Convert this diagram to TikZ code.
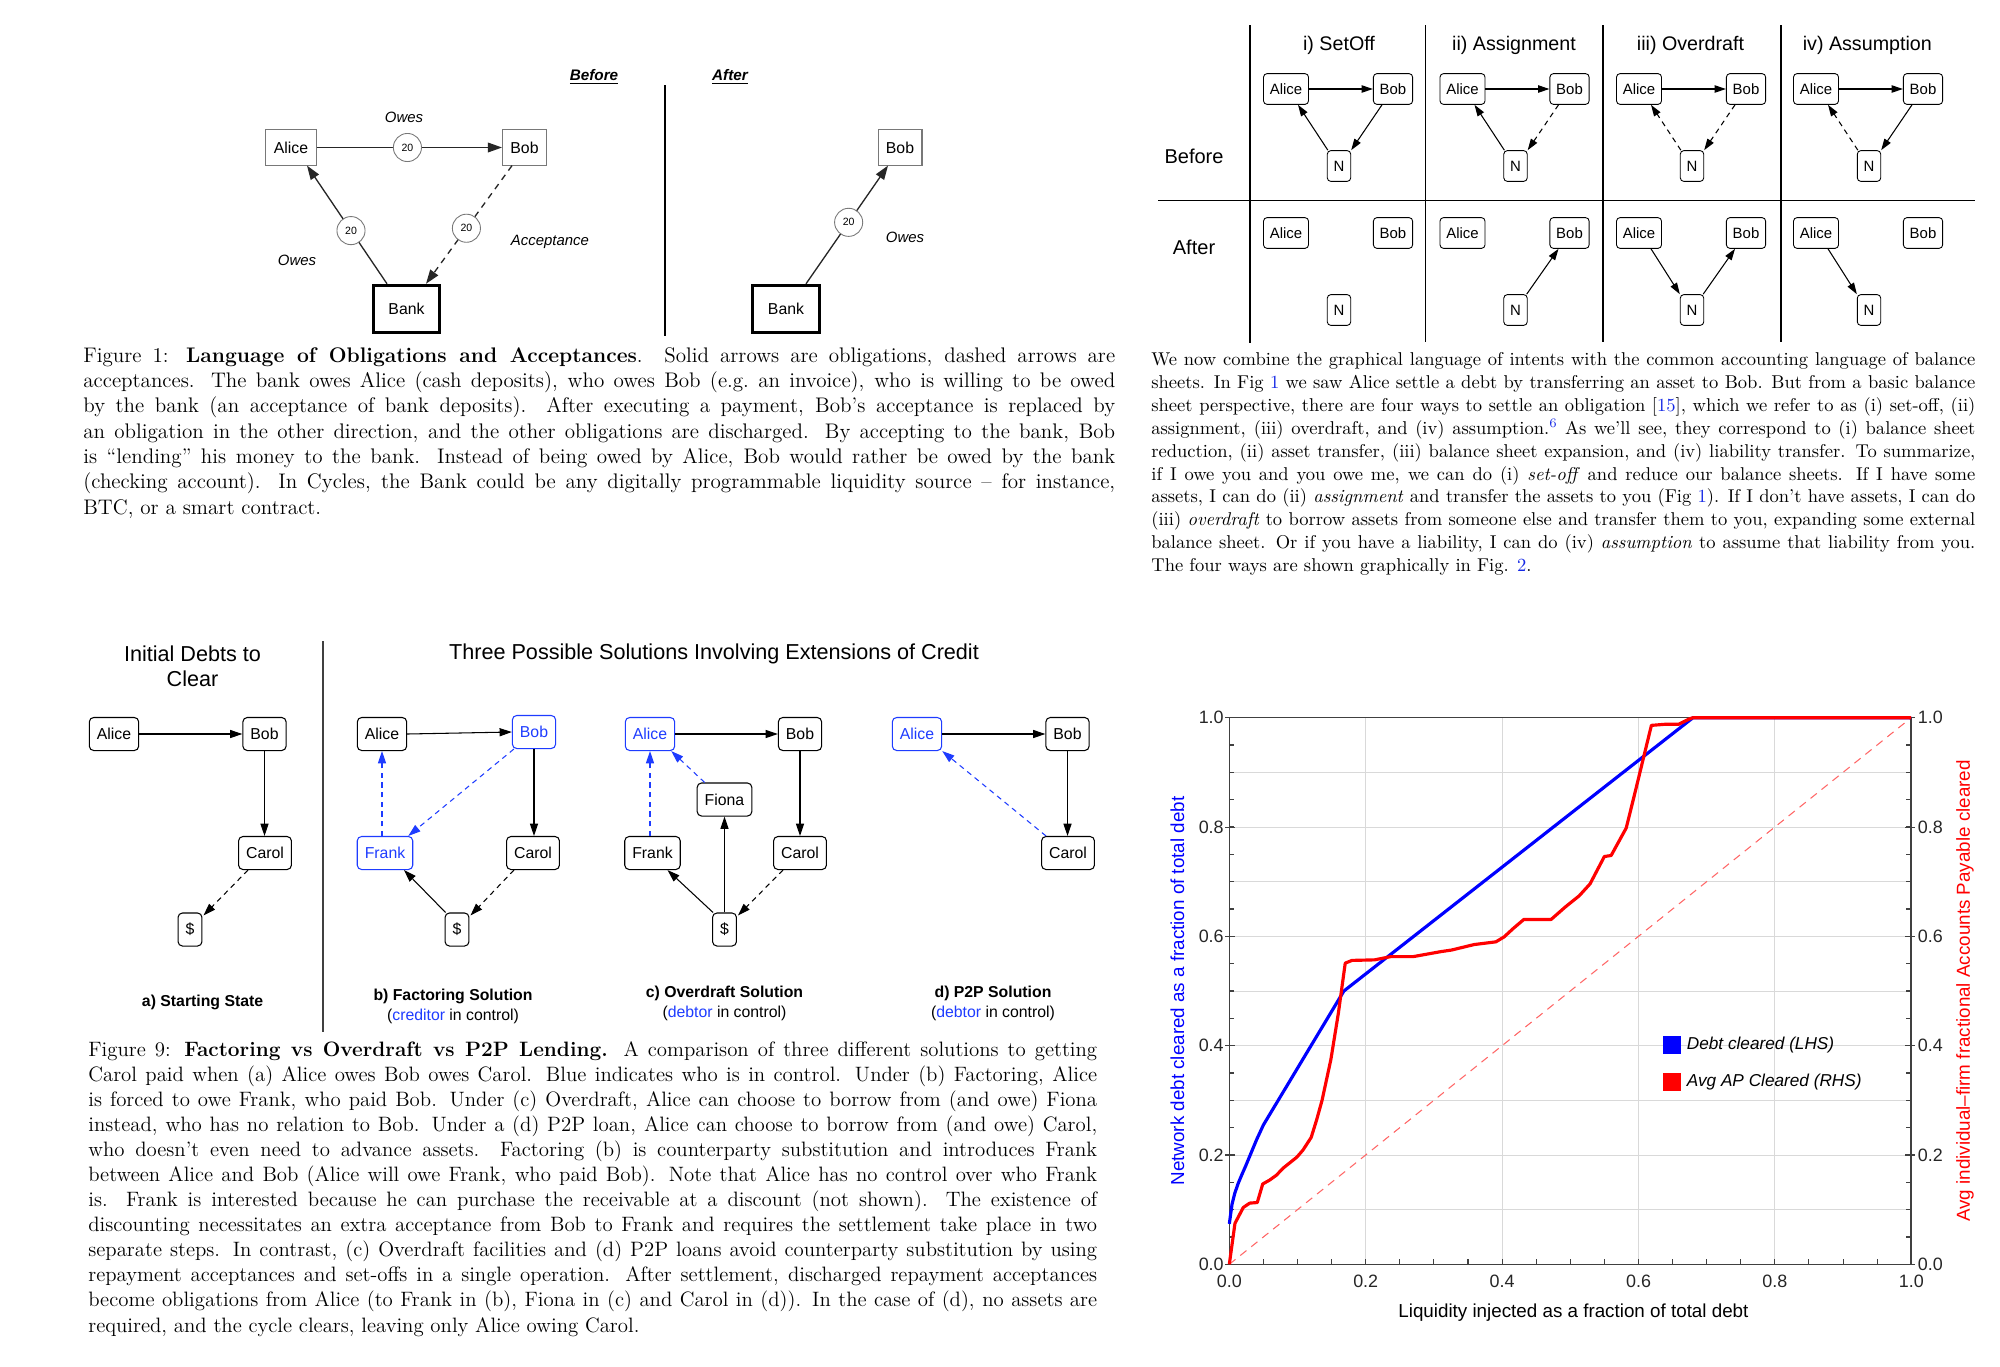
\documentclass[tikz,border=0pt]{standalone}
\usepackage{fontspec}
\newfontfamily\arial[Ligatures=TeX]{Liberation Sans}
\usetikzlibrary{arrows.meta,calc}
\definecolor{fblue}{RGB}{30,60,255}
\definecolor{lblue}{RGB}{20,40,230}
\definecolor{boxgray}{RGB}{120,120,120}
\newcommand\fsz[2]{\fontsize{#1}{#2}\selectfont}
\newcommand\lk[1]{\textcolor{lblue}{#1}}
\tikzset{
 f1box/.style={draw=boxgray, line width=0.6pt, font=\arial\fsz{9}{11}, inner xsep=4.5pt, inner ysep=0pt, minimum height=20pt},
 f1bank/.style={f1box, draw=black, line width=1.7pt, minimum width=38pt, minimum height=27pt},
 f1circ/.style={circle, solid, draw=boxgray, fill=white, line width=0.5pt, minimum size=16pt, inner sep=0pt, font=\arial\fsz{6}{7}},
 f1lab/.style={font=\arial\itshape\fsz{8.5}{10}},
 f1head/.style={font=\arial\bfseries\itshape\fsz{8.7}{10}},
 f1arr/.style={line width=0.75pt, draw=black!85, -{Triangle[length=8pt,width=5.5pt]}},
 f1dash/.style={f1arr, dash pattern=on 3.5pt off 3pt},
 f2box/.style={draw, rounded corners=2pt, line width=0.5pt, font=\arial\fsz{8.5}{10}, inner xsep=3.6pt, inner ysep=0pt, minimum height=17.5pt},
 f2arr/.style={line width=0.6pt, -{Triangle[length=6.5pt,width=4.2pt]}},
 f2dash/.style={f2arr, dash pattern=on 3pt off 2.5pt},
 f2head/.style={font=\arial\fsz{11.2}{13}, anchor=base},
 f9box/.style={draw, rounded corners=2.5pt, line width=0.6pt, font=\arial\fsz{9}{11}, inner xsep=4.3pt, inner ysep=0pt, minimum height=18.8pt},
 f9bbox/.style={f9box, draw=fblue, text=fblue},
 f9arr/.style={line width=0.6pt, -{Triangle[length=7pt,width=4.6pt]}},
 f9dash/.style={f9arr, dash pattern=on 3pt off 2.5pt},
 f9bdash/.style={f9dash, color=fblue},
 f9lab/.style={font=\arial\bfseries\fsz{9}{11}},
 f9sub/.style={font=\arial\fsz{9}{11}},
 f9title/.style={font=\arial\fsz{12.3}{14.2}, align=center},
 capt/.style={anchor=north west, inner sep=0pt, align=justify},
 gridc/.style={draw=black!15, line width=0.5pt},
 tickc/.style={draw=black!75, line width=0.6pt},
 tlab/.style={font=\arial\fsz{10.2}{12}, inner sep=0pt, text=black!85},
 axlab/.style={font=\arial\fsz{10.7}{12}, inner sep=0pt},
 leg/.style={font=\arial\itshape\fsz{9.8}{12}, inner sep=0pt, anchor=west},
}
\begin{document}
\begin{tikzpicture}[x=0.02cm,y=-0.02cm]
\fill[white] (0,0) rectangle (2000,1366);
\useasboundingbox (0,0) rectangle (2000,1366);

% ================= Figure 1 =================
\node[f1head] (f1bef) at (594,77) {\underline{Before}};
\node[f1head] (f1aft) at (730,77) {\underline{After}};
\draw[line width=0.6pt] (665,85) -- (665,336);
\node[f1box] (f1alice) at (291,147.5) {Alice};
\node[f1box] (f1bob) at (524.5,147.5) {Bob};
\node[f1bank] (f1bank) at (406.5,309) {Bank};
\node[f1box] (f1bobA) at (900,147.5) {Bob};
\node[f1bank] (f1bankA) at (786,309) {Bank};
\draw[f1arr] (f1alice.east) -- node[f1circ, pos=0.49] (f1c1) {20} (f1bob.west);
\draw[f1arr] ($(f1bank.north)+(-19.5,0)$) -- node[f1circ, pos=0.45] (f1c2) {20} ($(f1alice.south)+(16,0)$);
\draw[f1dash] ($(f1bob.south)+(-12.5,0)$) -- node[f1circ, pos=0.53] (f1c3) {20} ($(f1bank.north)+(19.5,0)$);
\draw[f1arr] ($(f1bankA.north)+(20,0)$) -- node[f1circ, pos=0.52] (f1c4) {20} ($(f1bobA.south)+(-12,0)$);
\node[f1lab] (f1l1) at (404,117) {Owes};
\node[f1lab] (f1l2) at (297,260) {Owes};
\node[f1lab] (f1l3) at (550,242) {Acceptance};
\node[f1lab] (f1l4) at (905,237) {Owes};

\node[capt, text width=587.3pt, font=\fsz{12}{14.4}] (cap1) at (83,344.3) {\noindent\strut Figure 1: \textbf{Language of Obligations and Acceptances}. Solid arrows are obligations, dashed arrows are\linebreak acceptances. The bank owes Alice (cash deposits), who owes Bob (e.g.\ an invoice), who is willing to be owed\linebreak by the bank (an acceptance of bank deposits). After executing a payment, Bob's acceptance is replaced by\linebreak an obligation in the other direction, and the other obligations are discharged. By accepting to the bank, Bob\linebreak is ``lending'' his money to the bank. Instead of being owed by Alice, Bob would rather be owed by the bank\linebreak (checking account). In Cycles, the Bank could be any digitally programmable liquidity source -- for instance,\linebreak BTC, or a smart contract.};

% ================= Figure 2 =================
\draw[line width=0.7pt] (1250,25) -- (1250,343);
\draw[line width=0.7pt] (1425.6,25) -- (1425.6,342);
\draw[line width=0.7pt] (1603,25) -- (1603,342);
\draw[line width=0.7pt] (1781,25) -- (1781,342);
\draw[line width=0.7pt] (1158,200.3) -- (1975,200.3);
\node[f2head] (h1) at (1339,50) {i) SetOff};
\node[f2head] (h2) at (1514,50) {ii) Assignment};
\node[f2head] (h3) at (1690.5,50) {iii) Overdraft};
\node[f2head] (h4) at (1867.3,50) {iv) Assumption};
\node[font=\arial\fsz{11.4}{13}] (rbef) at (1194,156) {Before};
\node[font=\arial\fsz{11.4}{13}] (raft) at (1194,247) {After};
\foreach \c/\dx in {1/0,2/176.5,3/353,4/530} {
  \node[f2box] (a\c b) at (1286+\dx,89) {Alice};
  \node[f2box] (b\c b) at (1393+\dx,89) {Bob};
  \node[f2box] (n\c b) at (1339+\dx,166) {N};
  \node[f2box] (a\c a) at (1286+\dx,233) {Alice};
  \node[f2box] (b\c a) at (1393+\dx,233) {Bob};
  \node[f2box] (n\c a) at (1339+\dx,310) {N};
  \draw[f2arr] (a\c b.east) -- (b\c b.west);
}
\draw[f2arr] ($(n1b.north west)+(1,0)$) -- ($(a1b.south)+(12,0)$);
\draw[f2arr] ($(b1b.south)+(-11,0)$) -- (n1b.north east);
\draw[f2arr] ($(n2b.north west)+(1,0)$) -- ($(a2b.south)+(12,0)$);
\draw[f2dash] ($(b2b.south)+(-11,0)$) -- (n2b.north east);
\draw[f2dash] ($(n3b.north west)+(1,0)$) -- ($(a3b.south)+(12,0)$);
\draw[f2dash] ($(b3b.south)+(-11,0)$) -- (n3b.north east);
\draw[f2dash] ($(n4b.north west)+(1,0)$) -- ($(a4b.south)+(12,0)$);
\draw[f2arr] ($(b4b.south)+(-11,0)$) -- (n4b.north east);
\draw[f2arr] ($(n2a.north east)+(-1,0)$) -- ($(b2a.south)+(-11,0)$);
\draw[f2arr] ($(a3a.south)+(12,0)$) -- (n3a.north west);
\draw[f2arr] ($(n3a.north east)+(-1,0)$) -- ($(b3a.south)+(-11,0)$);
\draw[f2arr] ($(a4a.south)+(12,0)$) -- (n4a.north west);

\node[capt, text width=469pt, font=\fsz{10.55}{13}] (par2) at (1151,349.5) {\noindent\strut We now combine the graphical language of intents with the common accounting language of balance\linebreak sheets. In Fig \lk{1} we saw Alice settle a debt by transferring an asset to Bob. But from a basic balance\linebreak sheet perspective, there are four ways to settle an obligation [\lk{15}], which we refer to as (i) set-off, (ii)\linebreak assignment, (iii) overdraft, and (iv) assumption.\textsuperscript{\lk{6}} As we'll see, they correspond to (i) balance sheet\linebreak reduction, (ii) asset transfer, (iii) balance sheet expansion, and (iv) liability transfer. To summarize,\linebreak if I owe you and you owe me, we can do (i) \emph{set-off} and reduce our balance sheets. If I have some\linebreak assets, I can do (ii) \emph{assignment} and transfer the assets to you (Fig \lk{1}). If I don't have assets, I can do\linebreak (iii) \emph{overdraft} to borrow assets from someone else and transfer them to you, expanding some external\linebreak balance sheet. Or if you have a liability, I can do (iv) \emph{assumption} to assume that liability from you.\linebreak The four ways are shown graphically in Fig. \lk{2}.};

% ================= Figure 9 =================
\node[f9title] (t9a) at (192.5,666.5) {Initial Debts to\\Clear};
\node[f9title] (t9b) at (714,654) {Three Possible Solutions Involving Extensions of Credit};
\draw[line width=0.6pt, black!75] (323,641) -- (323,1032);
% a
\node[f9box] (aA) at (114,734) {Alice};
\node[f9box] (aB) at (264.5,734) {Bob};
\node[f9box] (aC) at (265,853) {Carol};
\node[f9box] (aD) at (190,929.5) {\$};
\draw[f9arr] (aA.east) -- (aB.west);
\draw[f9arr] (aB.south) -- (aC.north -| aB.south);
\draw[f9dash] ($(aC.south)+(-17,0)$) -- ($(aD.north east)+(1,3)$);
\node[f9lab] (la) at (202.6,1002) {a) Starting State};
% b
\node[f9box] (bA) at (382,734) {Alice};
\node[f9bbox] (bB) at (534,732) {Bob};
\node[f9bbox] (bF) at (385,853) {Frank};
\node[f9box] (bC) at (533,853) {Carol};
\node[f9box] (bD) at (457,929.5) {\$};
\draw[f9arr] (bA.east) -- (bB.west);
\draw[f9arr] (bB.south) -- (bC.north -| bB.south);
\draw[f9bdash] (bF.north -| bA.south) -- (bA.south);
\draw[f9bdash] ($(bB.south west)+(2,0)$) -- ($(bF.north east)+(-5,0)$);
\draw[f9arr] ($(bD.north west)+(1,0)$) -- ($(bF.south)+(19,0)$);
\draw[f9dash] ($(bC.south)+(-19,0)$) -- ($(bD.north east)+(1,3)$);
\node[f9lab] (lb1) at (453,996.5) {b) Factoring Solution};
\node[f9sub] (lb2) at (453,1016.6) {(\textcolor{fblue}{creditor} in control)};
% c
\node[f9bbox] (cA) at (650,734) {Alice};
\node[f9box] (cB) at (800,734) {Bob};
\node[f9box] (cFi) at (724.5,799.5) {Fiona};
\node[f9box] (cFr) at (652.5,853) {Frank};
\node[f9box] (cC) at (800,853) {Carol};
\node[f9box] (cD) at (724.5,929.5) {\$};
\draw[f9arr] (cA.east) -- (cB.west);
\draw[f9arr] (cB.south) -- (cC.north);
\draw[f9bdash] (cFr.north -| cA.south) -- (cA.south);
\draw[f9bdash] ($(cFi.north west)+(8,0)$) -- ($(cA.south east)+(-4,0)$);
\draw[f9arr] (cD.north) -- (cFi.south);
\draw[f9arr] ($(cD.north west)+(1,0)$) -- ($(cFr.south)+(15,0)$);
\draw[f9dash] ($(cC.south)+(-17,0)$) -- ($(cD.north east)+(1,3)$);
\node[f9lab] (lc1) at (724.5,993) {c) Overdraft Solution};
\node[f9sub] (lc2) at (724.5,1013) {(\textcolor{fblue}{debtor} in control)};
% d
\node[f9bbox] (dA) at (917,734) {Alice};
\node[f9box] (dB) at (1067.5,734) {Bob};
\node[f9box] (dC) at (1068,853) {Carol};
\draw[f9arr] (dA.east) -- (dB.west);
\draw[f9arr] (dB.south) -- (dC.north -| dB.south);
\draw[f9bdash] ($(dC.north west)+(5,0)$) -- (dA.south east);
\node[f9lab] (ld1) at (993,993) {d) P2P Solution};
\node[f9sub] (ld2) at (993,1013) {(\textcolor{fblue}{debtor} in control)};

\node[capt, text width=574.2pt, font=\fsz{11.85}{14.26}] (cap9) at (88,1038.5) {\noindent\strut Figure 9: \textbf{Factoring vs Overdraft vs P2P Lending.} A comparison of three different solutions to getting\linebreak Carol paid when (a) Alice owes Bob owes Carol. Blue indicates who is in control. Under (b) Factoring, Alice\linebreak is forced to owe Frank, who paid Bob. Under (c) Overdraft, Alice can choose to borrow from (and owe) Fiona\linebreak instead, who has no relation to Bob. Under a (d) P2P loan, Alice can choose to borrow from (and owe) Carol,\linebreak who doesn't even need to advance assets. Factoring (b) is counterparty substitution and introduces Frank\linebreak between Alice and Bob (Alice will owe Frank, who paid Bob). Note that Alice has no control over who Frank\linebreak is. Frank is interested because he can purchase the receivable at a discount (not shown). The existence of\linebreak discounting necessitates an extra acceptance from Bob to Frank and requires the settlement take place in two\linebreak separate steps. In contrast, (c) Overdraft facilities and (d) P2P loans avoid counterparty substitution by using\linebreak repayment acceptances and set-offs in a single operation. After settlement, discharged repayment acceptances\linebreak become obligations from Alice (to Frank in (b), Fiona in (c) and Carol in (d)). In the case of (d), no assets are\linebreak required, and the cycle clears, leaving only Alice owing Carol.};

% ================= Chart =================
\coordinate (O) at (1229.3,1264.3);
\begin{scope}[shift={(O)}, x=13.64cm, y=10.934cm]
  \foreach \v in {0.1,0.2,0.3,0.4,0.5,0.6,0.7,0.8,0.9} \draw[gridc] (0,\v) -- (1,\v);
  \foreach \v in {0.2,0.4,0.6,0.8} \draw[gridc] (\v,0) -- (\v,1);
  \draw[red!60, line width=0.6pt, dash pattern=on 4.5pt off 3.5pt] (0,0) -- (1,1);
  \draw[black!75, line width=0.8pt] (0,0) rectangle (1,1);
  \foreach \i in {1,...,19} {
    \draw[tickc] (\i*0.05,0) -- ++(0,0.0095);
    \draw[tickc] (0,\i*0.05) -- ++(0.0075,0);
    \draw[tickc] (1,\i*0.05) -- ++(-0.0075,0);
  }
  \foreach \i in {0,...,5} {
    \draw[tickc] (-0.006,\i*0.2) -- (0.009,\i*0.2);
    \draw[tickc] (0.991,\i*0.2) -- (1.006,\i*0.2);
  }
  \draw[blue, line width=1.8pt, line join=round] plot coordinates {(0,0.074) (0.004,0.11) (0.008,0.13) (0.013,0.148) (0.018,0.163) (0.024,0.18) (0.03,0.198) (0.04,0.228) (0.05,0.255) (0.168,0.5) (0.68,1.0) (1,1)};
  \draw[red, line width=1.8pt, line join=round] plot coordinates {(0,0) (0.0083,0.075) (0.0205,0.104) (0.03,0.112) (0.041,0.113) (0.049,0.147) (0.059,0.154) (0.069,0.163) (0.079,0.176) (0.099,0.196) (0.108,0.209) (0.12,0.232) (0.128,0.264) (0.136,0.30) (0.149,0.375) (0.16,0.46) (0.17,0.551) (0.18,0.556) (0.213,0.557) (0.237,0.563) (0.27,0.563) (0.31,0.572) (0.326,0.575) (0.359,0.585) (0.391,0.59) (0.403,0.599) (0.416,0.614) (0.432,0.631) (0.472,0.631) (0.493,0.654) (0.513,0.674) (0.529,0.696) (0.55,0.746) (0.56,0.748) (0.582,0.798) (0.594,0.858) (0.619,0.986) (0.639,0.988) (0.659,0.988) (0.675,0.998) (0.68,1.0) (1,1)};
\end{scope}
\foreach \i/\t in {0/0.0,1/0.2,2/0.4,3/0.6,4/0.8,5/1.0} {
  \node[tlab, anchor=east] (yl\i) at (1224,1264.3-109.34*\i) {\t};
  \node[tlab, anchor=west] (yr\i) at (1917.5,1264.3-109.34*\i) {\t};
  \node[tlab] (xl\i) at (1229.3+136.4*\i,1281) {\t};
}
\node[fill=blue, minimum size=10pt, inner sep=0pt] (lg1) at (1672,1045) {};
\node[leg] (lt1) at (1686.5,1045.5) {Debt cleared (LHS)};
\node[fill=red, minimum size=10pt, inner sep=0pt] (lg2) at (1672,1082) {};
\node[leg] (lt2) at (1686.5,1082) {Avg AP Cleared (RHS)};
\node[axlab, rotate=90, text=blue] (ylab) at (1177.4,991) {Network debt cleared as a fraction of total debt};
\node[axlab, rotate=90, text=red] (y2lab) at (1965,991) {Avg individual–firm fractional Accounts Payable cleared};
\node[axlab] (xlab) at (1573.4,1312.4) {Liquidity injected as a fraction of total debt};
\end{tikzpicture}
\end{document}
